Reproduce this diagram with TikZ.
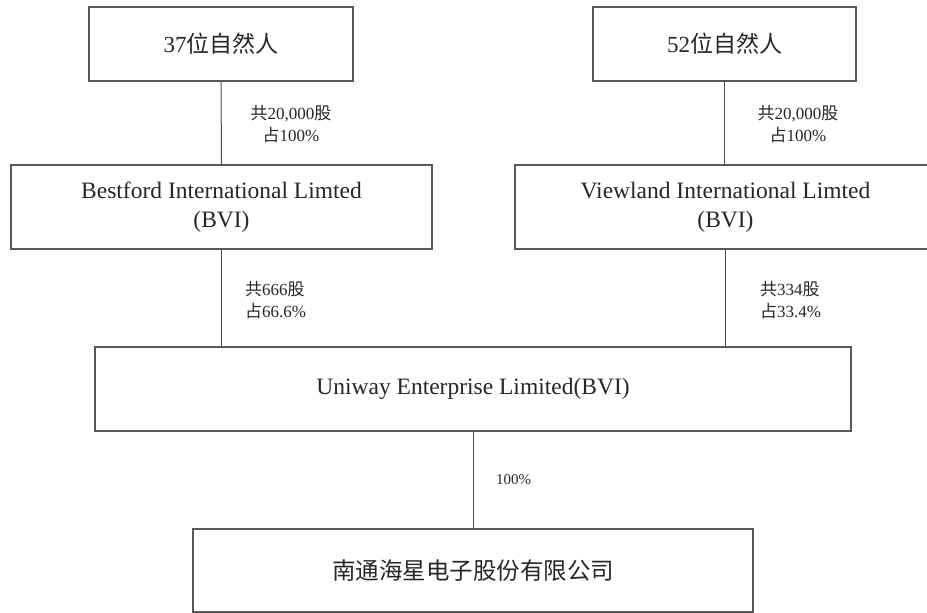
\documentclass[tikz,border=0pt]{standalone}
\usepackage{fontspec}
\setmainfont{Liberation Serif}
\newfontfamily\cjk{Noto Sans CJK SC}
\newcommand{\zh}[1]{{\cjk #1}}

\begin{document}
\begin{tikzpicture}[x=1pt,y=-1pt,
  boite/.style={draw=black!65, line width=1.3pt, rectangle, inner sep=0pt, text=black!85, align=center},
  lien/.style={draw=black!70, line width=1pt},
  part/.style={font=\fontsize{17}{22}\selectfont, text=black!85, inner sep=0pt}]

% Cadre
\useasboundingbox (0,0) rectangle (927,613);

% Actionnaires
\node[boite, minimum width=264pt, minimum height=74pt, font=\fontsize{23}{28}\selectfont] (p37) at (221,44) {37\zh{位自然人}};
\node[boite, minimum width=263pt, minimum height=74pt, font=\fontsize{23}{28}\selectfont] (p52) at (724.5,44) {52\zh{位自然人}};

% Holdings BVI
\node[boite, minimum width=421pt, minimum height=84pt, font=\fontsize{23.5}{29}\selectfont] (best) at (221.5,207) {Bestford International Limted\\(BVI)};
\node[boite, minimum width=421pt, minimum height=84pt, font=\fontsize{23.5}{29}\selectfont] (view) at (725.5,207) {Viewland International Limted\\(BVI)};

% Uniway
\node[boite, minimum width=756pt, minimum height=84pt, font=\fontsize{23.5}{28}\selectfont] (uni) at (473,389) {Uniway Enterprise Limited(BVI)};

% Societe
\node[boite, minimum width=560pt, minimum height=83pt, font=\fontsize{23.5}{28}\cjk] (nt) at (473,570.5) {南通海星电子股份有限公司};

% Liaisons
\draw[lien] (p37.south) -- (best.north);
\draw[lien] (p52.south) -- (p52.south |- view.north);
\draw[lien] (best.south) -- (best.south |- uni.north);
\draw[lien] (view.south) -- (view.south |- uni.north);
\draw[lien] (uni.south) -- (nt.north);

% Parts
\node[part, align=center] (l1) at (291,124) {\zh{共}20,000\zh{股}\\\zh{占}100\%};
\node[part, align=center] (l2) at (798,124) {\zh{共}20,000\zh{股}\\\zh{占}100\%};
\node[part, align=left, anchor=west] (l3) at (245,300) {\zh{共}666\zh{股}\\\zh{占}66.6\%};
\node[part, align=left, anchor=west] (l4) at (760,300) {\zh{共}334\zh{股}\\\zh{占}33.4\%};
\node[part, anchor=west, font=\fontsize{15}{18}\selectfont] (l5) at (496,480) {100\%};

\end{tikzpicture}
\end{document}
